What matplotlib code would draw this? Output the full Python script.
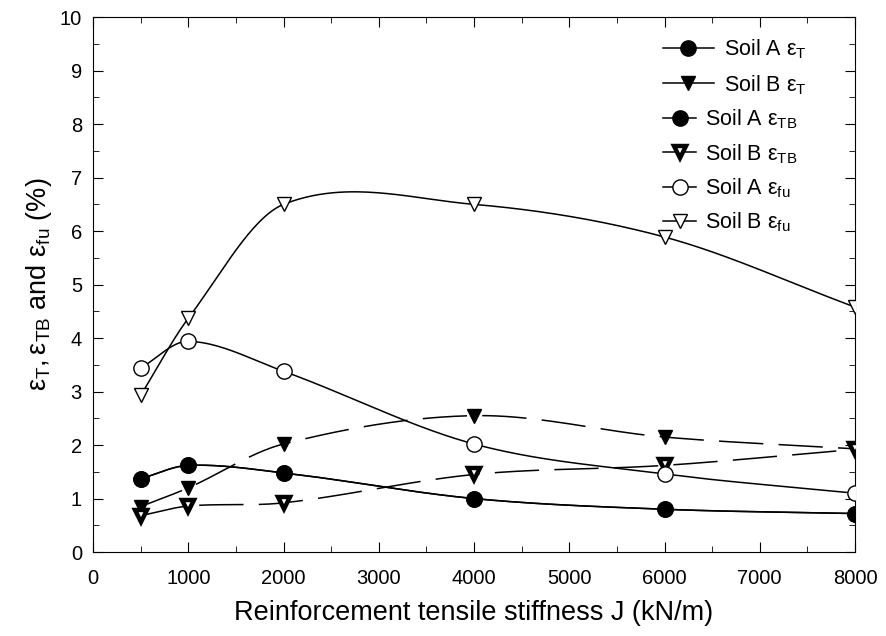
import numpy as np
import matplotlib
matplotlib.use("Agg")
import matplotlib.pyplot as plt
from matplotlib.ticker import MultipleLocator

plt.rcParams["font.family"] = ["Liberation Sans", "DejaVu Sans"]
plt.rcParams["mathtext.fontset"] = "custom"
plt.rcParams["mathtext.rm"] = "Liberation Sans"
plt.rcParams["mathtext.it"] = "Liberation Sans"

# Datos
stiffness = [500, 1000, 2000, 4000, 6000, 8000]
soil_a_t = [1.37, 1.62, 1.48, 1.00, 0.80, 0.72]
soil_b_t = [0.85, 1.20, 2.02, 2.55, 2.15, 1.93]
soil_a_tb = [1.37, 1.62, 1.48, 1.00, 0.80, 0.72]
soil_b_tb = [0.68, 0.86, 0.92, 1.45, 1.62, 1.92]
soil_a_fu = [3.44, 3.94, 3.38, 2.02, 1.46, 1.10]
soil_b_fu = [2.93, 4.37, 6.50, 6.50, 5.89, 4.58]


def smooth(x, y, n=60):
    # curva suave tipo Catmull-Rom (Hermite) por los puntos
    x = np.asarray(x, float)
    y = np.asarray(y, float)
    m = np.zeros_like(y)
    m[0] = (y[1] - y[0]) / (x[1] - x[0])
    m[-1] = (y[-1] - y[-2]) / (x[-1] - x[-2])
    m[1:-1] = (y[2:] - y[:-2]) / (x[2:] - x[:-2])
    xs_all, ys_all = [], []
    for i in range(len(x) - 1):
        h = x[i + 1] - x[i]
        t = np.linspace(0, 1, n)
        h00 = 2 * t**3 - 3 * t**2 + 1
        h10 = t**3 - 2 * t**2 + t
        h01 = -2 * t**3 + 3 * t**2
        h11 = t**3 - t**2
        ys = h00 * y[i] + h10 * h * m[i] + h01 * y[i + 1] + h11 * h * m[i + 1]
        xs_all.append(x[i] + t * h)
        ys_all.append(ys)
    return np.concatenate(xs_all), np.concatenate(ys_all)


fig, ax = plt.subplots(figsize=(8.86, 6.36), dpi=100)
fig.subplots_adjust(left=0.105, right=0.965, bottom=0.132, top=0.973)

series = [
    (soil_a_t, "o", "black", 1.0, 11, "-", r"Soil A $\mathregular{ε_T}$"),
    (soil_b_t, "v", "black", 1.0, 10, "--", r"Soil B $\mathregular{ε_T}$"),
    (soil_a_tb, "o", "black", 1.0, 11, "-", r"Soil A $\mathregular{ε_{TB}}$"),
    (soil_b_tb, "v", "white", 3.2, 8.5, "--", r"Soil B $\mathregular{ε_{TB}}$"),
    (soil_a_fu, "o", "white", 1.0, 11, "-", r"Soil A $\mathregular{ε_{fu}}$"),
    (soil_b_fu, "v", "white", 1.0, 10, "-", r"Soil B $\mathregular{ε_{fu}}$"),
]

handles = []
for vals, mk, fc, mew, ms, ls, lab in series:
    xs, ys = smooth(stiffness, vals)
    line, = ax.plot(xs, ys, color="black", lw=1.1, ls=ls)
    if ls == "--":
        line.set_dashes((29, 10))
    ax.plot(stiffness, vals, ls="none", marker=mk, ms=ms, mfc=fc,
            mec="black", mew=mew, zorder=3)
    h, = ax.plot([], [], color="black", lw=1.1, ls="-", marker=mk, ms=ms,
                 mfc=fc, mec="black", mew=mew, label=lab)
    handles.append(h)

ax.set_xlim(0, 8000)
ax.set_ylim(0, 10)
ax.xaxis.set_major_locator(MultipleLocator(1000))
ax.xaxis.set_minor_locator(MultipleLocator(500))
ax.yaxis.set_major_locator(MultipleLocator(1))
ax.yaxis.set_minor_locator(MultipleLocator(0.5))
ax.tick_params(which="both", direction="in", top=True, right=True, labelsize=14.5)
ax.tick_params(which="major", length=7)
ax.tick_params(which="minor", length=4)
ax.tick_params(axis="x", pad=12)
ax.tick_params(axis="y", pad=8)

ax.set_xlabel("Reinforcement tensile stiffness J (kN/m)", fontsize=19.5, labelpad=9)
ax.set_ylabel(r"$\mathregular{ε_T, ε_{TB}}$ and $\mathregular{ε_{fu}}$ (%)",
              fontsize=19.5, labelpad=4)

# dos leyendas: las dos primeras entradas llevan linea mas larga
leg1 = ax.legend(handles=handles[:2], loc="upper left", frameon=False,
                 fontsize=15.5, handlelength=2.35, handletextpad=0.5,
                 labelspacing=0.55, borderpad=0, borderaxespad=0,
                 bbox_to_anchor=(0.748, 0.962))
ax.add_artist(leg1)
ax.legend(handles=handles[2:], loc="upper left", frameon=False,
          fontsize=15.5, handlelength=1.55, handletextpad=0.4,
          labelspacing=0.5, borderpad=0, borderaxespad=0,
          bbox_to_anchor=(0.748, 0.831))

plt.savefig("out.png", dpi=100)
